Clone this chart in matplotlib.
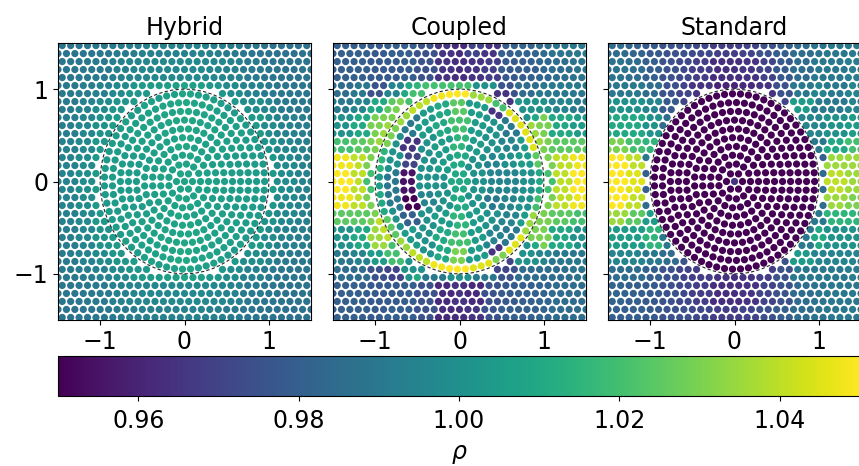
import numpy as np
import matplotlib
matplotlib.use("Agg")
import matplotlib.pyplot as plt
from matplotlib.patches import Circle

titles = ["Hybrid", "Coupled", "Standard"]
axis_ticks = [-1, 0, 1]
cbar_ticks = [0.96, 0.98, 1.00, 1.02, 1.04]
rho_min, rho_max = 0.95, 1.05

# rho on a 0.2 x 0.2 grid
# rows: y = 1.4 ... -1.4, cols: x = -1.4 ... 1.4
hybrid_grid = [
    [0.988, 0.989, 0.990, 0.991, 0.992, 0.993, 0.994, 0.994, 0.994, 0.993, 0.991, 0.989, 0.988, 0.987, 0.987],
    [0.989, 0.990, 0.991, 0.993, 0.995, 0.996, 0.997, 0.997, 0.997, 0.996, 0.994, 0.991, 0.989, 0.988, 0.988],
    [0.990, 0.992, 0.994, 0.997, 1.002, 1.004, 1.006, 1.008, 1.006, 1.003, 0.998, 0.994, 0.991, 0.989, 0.989],
    [0.991, 0.994, 0.998, 1.002, 1.005, 1.007, 1.008, 1.010, 1.008, 1.006, 1.004, 0.999, 0.995, 0.991, 0.990],
    [0.992, 0.996, 1.001, 1.005, 1.006, 1.007, 1.008, 1.009, 1.008, 1.007, 1.006, 1.004, 0.998, 0.994, 0.992],
    [0.993, 0.997, 1.003, 1.005, 1.006, 1.006, 1.007, 1.009, 1.007, 1.006, 1.006, 1.005, 1.001, 0.996, 0.993],
    [0.994, 0.998, 1.004, 1.005, 1.005, 1.006, 1.007, 1.008, 1.007, 1.006, 1.005, 1.005, 1.003, 0.997, 0.994],
    [0.994, 0.999, 1.004, 1.005, 1.005, 1.006, 1.007, 1.008, 1.007, 1.006, 1.005, 1.005, 1.004, 0.998, 0.994],
    [0.994, 0.998, 1.004, 1.005, 1.005, 1.006, 1.007, 1.008, 1.007, 1.006, 1.005, 1.005, 1.003, 0.997, 0.994],
    [0.993, 0.997, 1.003, 1.005, 1.006, 1.006, 1.007, 1.009, 1.007, 1.006, 1.006, 1.005, 1.001, 0.996, 0.993],
    [0.992, 0.996, 1.001, 1.005, 1.006, 1.007, 1.008, 1.009, 1.008, 1.007, 1.006, 1.004, 0.998, 0.994, 0.992],
    [0.991, 0.994, 0.998, 1.002, 1.005, 1.007, 1.008, 1.010, 1.008, 1.006, 1.004, 0.999, 0.995, 0.991, 0.990],
    [0.990, 0.992, 0.994, 0.997, 1.002, 1.004, 1.006, 1.008, 1.006, 1.003, 0.998, 0.994, 0.991, 0.989, 0.989],
    [0.989, 0.990, 0.991, 0.993, 0.995, 0.996, 0.997, 0.997, 0.997, 0.996, 0.994, 0.991, 0.989, 0.988, 0.988],
    [0.988, 0.989, 0.990, 0.991, 0.992, 0.993, 0.994, 0.994, 0.994, 0.993, 0.991, 0.989, 0.988, 0.987, 0.987],
]

coupled_grid = [
    [0.980, 0.980, 0.978, 0.980, 0.980, 0.975, 0.965, 0.962, 0.970, 0.965, 0.980, 0.982, 0.985, 0.988, 0.990],
    [0.980, 0.980, 0.978, 0.978, 0.980, 0.975, 0.965, 0.963, 0.965, 0.968, 0.978, 0.980, 0.983, 0.985, 0.988],
    [0.985, 0.990, 0.975, 0.995, 1.010, 1.015, 1.020, 1.020, 1.015, 1.000, 0.975, 0.985, 0.990, 0.990, 0.990],
    [0.990, 0.995, 1.010, 1.025, 1.010, 1.005, 1.010, 1.025, 1.005, 0.965, 0.975, 1.000, 1.000, 0.995, 0.990],
    [1.000, 1.010, 1.030, 1.010, 0.990, 1.005, 1.010, 1.020, 1.005, 1.000, 0.990, 1.010, 1.030, 1.010, 1.005],
    [1.020, 1.025, 1.030, 1.000, 0.965, 1.000, 1.005, 1.015, 1.005, 1.000, 0.995, 1.005, 1.030, 1.025, 1.025],
    [1.048, 1.040, 1.020, 1.000, 0.970, 1.000, 1.005, 1.010, 1.000, 0.995, 1.000, 1.005, 1.025, 1.040, 1.048],
    [1.050, 1.040, 1.020, 0.990, 0.955, 1.000, 1.000, 1.010, 1.000, 0.995, 0.995, 1.000, 1.020, 1.040, 1.050],
    [1.048, 1.040, 1.015, 0.990, 0.950, 0.995, 1.000, 1.010, 1.000, 0.990, 0.995, 1.000, 1.020, 1.040, 1.048],
    [1.025, 1.025, 1.030, 1.000, 0.980, 1.000, 1.005, 1.015, 1.005, 1.000, 0.995, 1.005, 1.030, 1.025, 1.020],
    [1.000, 1.010, 1.035, 1.010, 1.005, 1.000, 1.010, 1.020, 1.005, 0.995, 0.990, 1.010, 1.030, 1.010, 1.000],
    [0.990, 0.995, 1.005, 1.020, 1.010, 1.000, 1.010, 1.030, 1.005, 0.965, 0.970, 1.000, 0.995, 0.990, 0.990],
    [0.985, 0.985, 0.975, 0.970, 1.000, 1.010, 1.015, 1.015, 1.010, 1.000, 0.975, 0.985, 0.985, 0.985, 0.988],
    [0.980, 0.980, 0.978, 0.978, 0.980, 0.975, 0.962, 0.965, 0.962, 0.975, 0.978, 0.980, 0.982, 0.985, 0.985],
    [0.980, 0.980, 0.978, 0.980, 0.980, 0.975, 0.962, 0.963, 0.965, 0.975, 0.980, 0.980, 0.982, 0.985, 0.985],
]

standard_grid = [
    [0.985, 0.982, 0.978, 0.975, 0.975, 0.972, 0.968, 0.968, 0.970, 0.975, 0.980, 0.985, 0.988, 0.990, 0.990],
    [0.988, 0.985, 0.980, 0.975, 0.972, 0.968, 0.963, 0.963, 0.965, 0.970, 0.978, 0.985, 0.990, 0.990, 0.992],
    [0.990, 0.990, 0.985, 0.975, 0.970, 0.965, 0.960, 0.960, 0.962, 0.965, 0.975, 0.990, 0.995, 0.990, 0.995],
    [1.000, 1.000, 0.995, 0.978, 0.970, 0.970, 0.970, 0.970, 0.970, 0.970, 0.970, 1.005, 0.990, 0.990, 0.995],
    [1.010, 1.010, 1.000, 0.985, 0.970, 0.970, 0.970, 0.970, 0.970, 0.970, 0.970, 0.995, 0.995, 1.000, 1.005],
    [1.030, 1.020, 1.015, 0.975, 0.970, 0.970, 0.970, 0.970, 0.970, 0.970, 0.970, 0.975, 0.990, 1.010, 1.020],
    [1.050, 1.040, 0.990, 0.970, 0.970, 0.970, 0.970, 0.970, 0.970, 0.970, 0.970, 0.970, 0.980, 1.035, 1.035],
    [1.050, 1.045, 0.980, 0.970, 0.970, 0.970, 0.970, 0.970, 0.970, 0.970, 0.970, 0.970, 0.985, 1.040, 1.035],
    [1.050, 1.040, 0.985, 0.970, 0.970, 0.970, 0.970, 0.970, 0.970, 0.970, 0.970, 0.970, 0.985, 1.035, 1.030],
    [1.035, 1.025, 1.005, 0.975, 0.970, 0.970, 0.970, 0.970, 0.970, 0.970, 0.970, 0.975, 0.990, 1.015, 1.015],
    [1.005, 1.005, 1.015, 0.990, 0.970, 0.970, 0.970, 0.970, 0.970, 0.970, 0.970, 0.990, 1.010, 1.000, 1.000],
    [0.995, 0.995, 0.990, 0.985, 0.975, 0.970, 0.970, 0.970, 0.970, 0.970, 0.975, 1.005, 0.995, 0.995, 0.995],
    [0.985, 0.985, 0.980, 0.975, 0.970, 0.968, 0.965, 0.963, 0.965, 0.968, 0.975, 0.990, 0.990, 0.990, 0.992],
    [0.982, 0.980, 0.978, 0.975, 0.972, 0.968, 0.963, 0.963, 0.965, 0.970, 0.975, 0.985, 0.988, 0.990, 0.990],
    [0.980, 0.980, 0.978, 0.975, 0.975, 0.972, 0.968, 0.968, 0.970, 0.975, 0.980, 0.985, 0.988, 0.990, 0.990],
]

# Coupled: outermost inner ring and the first lattice layer outside it,
# by 15 degree sectors starting at +x, counter-clockwise
coupled_ring = [1.010, 1.025, 1.045, 1.045, 1.020, 1.035, 1.050, 1.048,
                1.040, 1.035, 1.030, 1.015, 1.005, 1.010, 1.025, 1.035,
                1.040, 1.048, 1.050, 1.045, 1.030, 1.045, 1.035, 1.020]
coupled_halo = [1.020, 1.030, 1.035, 1.000, 0.965, 1.000, 1.020, 1.020,
                1.020, 1.030, 1.035, 1.030, 1.020, 1.030, 1.040, 1.020,
                1.000, 0.990, 1.000, 0.990, 0.970, 1.000, 1.030, 1.030]

# Standard: inner rings, centre particle first
standard_inner = [0.965, 0.940, 0.940, 0.940, 0.940, 0.940, 0.940, 0.940, 0.940, 0.942, 0.948]

dx = 0.1
n_rings = 10
dr = 0.095


def outer_particles():
    pts = []
    for j in range(-19, 20):
        y = j * dx * np.sqrt(3) / 2
        for i in range(-17, 18):
            x = i * dx + (j % 2) * dx / 2
            if np.hypot(x, y) > 1.02:
                pts.append((x, y))
    return np.array(pts)


def inner_particles():
    pts, ring = [(0.0, 0.0)], [0]
    for k in range(1, n_rings + 1):
        n = int(round(2 * np.pi * k))
        th = 2 * np.pi * np.arange(n) / n
        for t in th:
            pts.append((k * dr * np.cos(t), k * dr * np.sin(t)))
            ring.append(k)
    return np.array(pts), np.array(ring)


def from_grid(grid, x, y):
    g = np.array(grid)
    col = np.clip(((x + 1.5) / 0.2).astype(int), 0, 14)
    row = np.clip(((1.5 - y) / 0.2).astype(int), 0, 14)
    return g[row, col]


def sector(x, y):
    th = np.degrees(np.arctan2(y, x)) % 360
    return np.round(th / 15).astype(int) % 24


outer = outer_particles()
inner, ring_id = inner_particles()
pts = np.vstack([outer, inner])
x, y = pts[:, 0], pts[:, 1]
r = np.hypot(x, y)
is_inner = np.r_[np.zeros(len(outer), bool), np.ones(len(inner), bool)]
rings = np.r_[np.full(len(outer), -1), ring_id]

rho_h = from_grid(hybrid_grid, x, y)

rho_c = from_grid(coupled_grid, x, y)
sec = sector(x, y)
m = rings == n_rings
rho_c[m] = np.array(coupled_ring)[sec[m]]
m = (~is_inner) & (r < 1.12)
rho_c[m] = np.array(coupled_halo)[sec[m]]

rho_s = from_grid(standard_grid, x, y)
rho_s[is_inner] = np.array(standard_inner)[rings[is_inner]]

fig = plt.figure(figsize=(8.59, 4.66), dpi=100)
lefts = [58 / 859, 333 / 859, 608 / 859]
axes = [fig.add_axes([l, 146 / 466, 253 / 859, 277 / 466]) for l in lefts]

for k, (ax, rho) in enumerate(zip(axes, [rho_h, rho_c, rho_s])):
    sc = ax.scatter(x, y, c=rho, cmap="viridis", vmin=rho_min, vmax=rho_max,
                    s=27, linewidths=0)
    ax.add_patch(Circle((0, 0), 1.0, fill=False, ls=(0, (3, 2)), lw=0.8,
                        color="k", alpha=0.85, zorder=3))
    ax.set_xlim(-1.5, 1.5)
    ax.set_ylim(-1.5, 1.5)
    ax.set_xticks(axis_ticks)
    ax.set_yticks(axis_ticks)
    ax.tick_params(labelsize=17)
    if k > 0:
        ax.set_yticklabels([])
    ax.set_title(titles[k], fontsize=17)

cax = fig.add_axes([58 / 859, 70 / 466, 802 / 859, 40 / 466])
cb = fig.colorbar(sc, cax=cax, orientation="horizontal")
cb.set_ticks(cbar_ticks)
cb.ax.tick_params(labelsize=17, pad=6)
cb.set_label(r"$\rho$", fontsize=17, labelpad=6)

fig.savefig("out.png", dpi=100)
